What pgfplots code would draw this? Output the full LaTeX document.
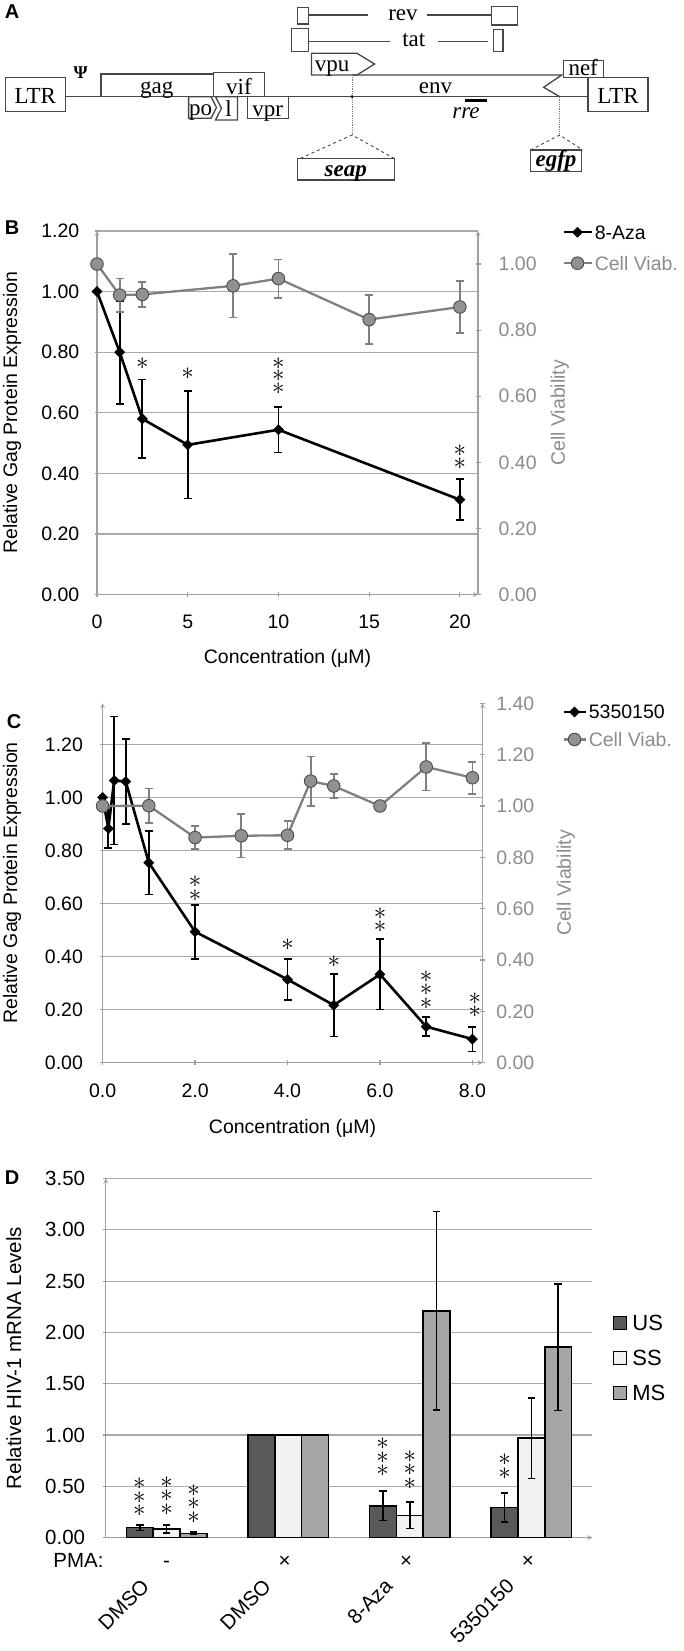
\documentclass[border=0pt]{standalone}
\usepackage{fontspec}
\setmainfont{Liberation Sans}
\newfontfamily\timesf{Liberation Serif}
\usepackage{pgfplots}
\usepackage{pgfplotstable}
\pgfplotsset{compat=1.18}

\definecolor{gridc}{RGB}{170,170,170}
\definecolor{axc}{RGB}{160,160,160}
\definecolor{viab}{RGB}{128,128,128}
\definecolor{viabfill}{RGB}{145,145,145}
\definecolor{viabtxt}{RGB}{140,140,140}
\definecolor{usc}{RGB}{89,89,89}
\definecolor{ssc}{RGB}{242,242,242}
\definecolor{msc}{RGB}{166,166,166}
\definecolor{diag}{RGB}{70,70,70}

\newcommand{\fB}{\fontsize{19.5}{22}\selectfont}
\newcommand{\fD}{\fontsize{20.5}{23}\selectfont}
\newcommand{\fL}{\fontsize{22}{24}\selectfont}
\newcommand{\fA}{\timesf\fontsize{23}{25}\selectfont}
\newcommand{\fP}{\bfseries\fontsize{20}{22}\selectfont}

\newcommand{\sa}{$\ast$}
\newcommand{\stk}[4]{\node[font=\fontsize{25}{#3}\selectfont, align=center, inner sep=0pt, anchor=south, yshift=-6.25pt] at (axis cs:#1,#2) {#4};}

\pgfplotsset{
 panel/.style={scale only axis, clip=false,
   axis line style={axc, line width=1.2pt, -},
   every tick/.style={axc, line width=1.2pt},
   major tick length=5pt, tick align=outside,
   tick label style={font=\fB, inner sep=0pt, /pgf/number format/assume math mode=true},
   label style={font=\fB},
   grid style={gridc, line width=1.2pt}},
 blk/.style={black, line width=2.6pt, mark=square*, mark size=3.6pt,
   mark options={rotate=45, solid, line width=0.4pt, fill=black},
   error bars/y dir=both, error bars/y explicit,
   error bars/error bar style={line width=1.8pt, black},
   error bars/error mark options={rotate=90, mark size=4pt, line width=1.8pt, black}},
 gry/.style={viab, line width=2.3pt, mark=*, mark size=6.3pt,
   mark options={solid, fill=viabfill, draw=black!70, line width=0.9pt},
   error bars/y dir=both, error bars/y explicit,
   error bars/error bar style={line width=1.8pt, viab},
   error bars/error mark options={rotate=90, mark size=4pt, line width=1.8pt, viab}},
 lineimgB/.style={legend image code/.code={\draw[mark repeat=2,mark phase=2,##1] plot coordinates {(0pt,0pt) (14pt,0pt) (28pt,0pt)};}},
 lineimgC/.style={legend image code/.code={\draw[mark repeat=2,mark phase=2,##1] plot coordinates {(0pt,0pt) (11pt,0pt) (22pt,0pt)};}},
 sqleg/.style={legend image code/.code={\draw[##1, line width=1.2pt] (0pt,-6.5pt) rectangle (13pt,6.5pt);}},
 eb/.style={error bars/y dir=both, error bars/y explicit,
   error bars/error bar style={line width=1.6pt, black},
   error bars/error mark options={rotate=90, mark size=3.8pt, line width=1.6pt, black}},
}

\pgfplotstableread{
x y e
0 1.00 0
1.25 0.80 0.17
2.5 0.58 0.13
5 0.494 0.177
10 0.544 0.075
20 0.313 0.067
}\Bblk
\pgfplotstableread{
x y e
0 1.00 0
1.25 0.906 0.05
2.5 0.908 0.038
7.5 0.934 0.096
10 0.956 0.058
15 0.832 0.075
20 0.870 0.078
}\Bgry
\pgfplotstableread{
x y e
0 1.00 0
0.125 0.883 0.072
0.25 1.064 0.241
0.5 1.060 0.161
1 0.754 0.12
2 0.494 0.102
4 0.314 0.078
5 0.217 0.118
6 0.333 0.132
7 0.136 0.035
8 0.089 0.047
}\Cblk
\pgfplotstableread{
x y e
0 1.00 0.01
1 1.001 0.067
2 0.877 0.045
3 0.884 0.085
4 0.886 0.055
4.5 1.097 0.096
5 1.078 0.047
6 1.00 0.015
7 1.152 0.092
8 1.11 0.062
}\Cgry

\begin{document}
\begin{tikzpicture}
\path[use as bounding box] (0,0) rectangle (683pt,-1651pt);

% ---------------- Panel A (schematic) ----------------
\node[font=\fP] at (12pt,-12pt) {A};
\begin{axis}[at={(0pt,0pt)}, anchor=north west, scale only axis, width=683pt, height=200pt,
  xmin=0, xmax=683, ymin=0, ymax=200, y dir=reverse, hide axis, clip=false]
\begin{scope}[diag, line width=1.3pt]
 \draw (65.3,96.7) -- (588,96.7);
 \draw (5.2,77.7) rectangle (65.3,111.7);
 \draw (588,77.7) rectangle (648,111.7);
 \draw (101,74) rectangle (213.4,96.7);
 \draw (213.4,72.7) rectangle (264.4,96.7);
 \draw (188.6,96.7) -- (211,96.7) -- (216.5,107.5) -- (211,118.3) -- (188.6,118.3) -- cycle;
 \draw (215.5,96.7) -- (237.4,96.7) -- (237.4,120) -- (215.5,120) -- (221.5,108.3) -- cycle;
 \draw (247.4,96.7) rectangle (288.3,118.3);
 \draw (311.4,53.3) -- (357,53.3) -- (374.6,64) -- (357,75) -- (311.4,75) -- cycle;
 \draw (352,75) -- (561.8,75) -- (543.6,87.3) -- (559.7,96.7);
 \draw (563.2,60.7) rectangle (603.2,77.3);
 \draw (297.5,7.3) rectangle (308.4,24);
 \draw (308.4,15) -- (368,15);
 \draw (426.8,15) -- (491.3,15);
 \draw (491.3,6.7) rectangle (517.4,25);
 \draw (291.8,28.3) rectangle (308.4,51.7);
 \draw (308.4,41.7) -- (389.8,41.7);
 \draw (437.7,41.7) -- (487.8,41.7);
 \draw (493.5,29.3) rectangle (503,51.7);
 \draw (297.5,158.3) rectangle (394.2,180);
 \draw (530.5,150) rectangle (581.4,171.7);
 \draw[gray, line width=0.8pt, densely dotted] (352,75) -- (352,135);
 \draw[gray, line width=0.8pt, densely dotted] (559.7,96.7) -- (559.7,135);
 \draw[line width=0.9pt, dashed] (300.5,158.3) -- (352,135) -- (394,158.3);
 \draw[line width=0.9pt, dashed] (530.5,150) -- (559.7,135) -- (582.8,150);
 \draw[black, line width=3pt] (465.2,100) -- (487,100);
\end{scope}
 \fill[black] (352,96.7) circle (1.5pt);
 \node[font=\fA, anchor=base] at (35.3,103.3) {LTR};
 \node[font=\fA, anchor=base] at (618,103.3) {LTR};
 \node[font=\timesf\bfseries\fontsize{18}{18}\selectfont] at (80.6,72.7) {Ψ};
 \node[font=\fA, anchor=base] at (156.8,93.3) {gag};
 \node[font=\fA, anchor=base] at (238.9,94) {vif};
 \node[font=\fA, anchor=base] at (200.5,115) {po};
 \node[font=\fA, anchor=base] at (228.5,116.7) {l};
 \node[font=\fA, anchor=base] at (267.8,116) {vpr};
 \node[font=\fA, anchor=base] at (332,71.7) {vpu};
 \node[font=\fA, anchor=base] at (435.5,93.3) {env};
 \node[font=\fA, anchor=base] at (583.2,75) {nef};
 \node[font=\fA, anchor=base] at (403,20) {rev};
 \node[font=\fA, anchor=base] at (413.8,46.7) {tat};
 \node[font=\fA\itshape, anchor=base] at (466,118.3) {rre};
 \node[font=\fA\bfseries\itshape, anchor=base] at (345.8,176) {seap};
 \node[font=\fA\bfseries\itshape, anchor=base] at (556,166.7) {egfp};
\end{axis}

% ---------------- Panel B ----------------
\node[font=\fP] at (12pt,-228pt) {B};
\begin{axis}[panel, at={(97pt,-594.5pt)}, anchor=south west, width=381pt, height=363.5pt,
  xmin=0, xmax=21, ymin=0, ymax=1.2,
  axis x line=bottom, axis y line=left,
  xtick={0,5,10,15,20}, ytick={0,0.2,0.4,0.6,0.8,1.0,1.2},
  ymajorgrids,
  yticklabel style={anchor=east, xshift=-15pt, /pgf/number format/.cd, fixed, fixed zerofill, precision=2},
  xticklabel style={anchor=north, yshift=-18pt},
  ylabel={Relative Gag Protein Expression},
  ylabel style={font=\fB, at={(rel axis cs:-0.223,0.5)}, anchor=center},
  xlabel={Concentration (μM)},
  xlabel style={font=\fB, at={(rel axis cs:0.5,-0.1747)}, anchor=center}]
\addplot[blk] table[x=x, y=y, y error=e] {\Bblk};
\stk{2.5}{0.763}{12.5pt}{\sa}
\stk{5}{0.73}{12.5pt}{\sa}
\stk{10}{0.681}{12.5pt}{\sa\\\sa\\\sa}
\stk{20}{0.433}{13pt}{\sa\\\sa}
\end{axis}
\begin{axis}[panel, at={(97pt,-594.5pt)}, anchor=south west, width=381pt, height=363.5pt,
  xmin=0, xmax=21, ymin=0, ymax=1.1,
  axis y line=right, axis x line=none,
  ytick={0,0.2,0.4,0.6,0.8,1.0},
  yticklabel style={anchor=west, xshift=18pt, text=viabtxt, /pgf/number format/.cd, fixed, fixed zerofill, precision=2},
  ylabel={Cell Viability},
  ylabel style={font=\fB, at={(rel axis cs:1.215,0.5)}, anchor=center, text=viabtxt},
  lineimgB,
  legend style={at={(rel axis cs:1.2205,1.0193)}, anchor=north west, draw=none, fill=none,
    font=\fB, inner sep=0pt, row sep=15pt, cells={anchor=west},
    nodes={inner sep=1pt, text height=14pt, text depth=0pt},
    /tikz/every odd column/.append style={column sep=1pt}}]
\addlegendimage{blk}
\addlegendentry{8-Aza}
\addplot[gry] table[x=x, y=y, y error=e] {\Bgry};
\addlegendentry{\textcolor{viabtxt}{Cell Viab.}}
\end{axis}

% ---------------- Panel C ----------------
\node[font=\fP] at (14pt,-722pt) {C};
\begin{axis}[panel, at={(102.6pt,-1062.7pt)}, anchor=south west, width=380pt, height=359.4pt,
  xmin=0, xmax=8.22, ymin=0, ymax=1.355,
  axis x line=bottom, axis y line=left,
  xtick={0,2,4,6,8}, ytick={0,0.2,0.4,0.6,0.8,1.0,1.2},
  ymajorgrids,
  yticklabel style={anchor=east, xshift=-17pt, /pgf/number format/.cd, fixed, fixed zerofill, precision=2},
  xticklabel style={anchor=north, yshift=-18pt, /pgf/number format/.cd, fixed, fixed zerofill, precision=1},
  ylabel={Relative Gag Protein Expression},
  ylabel style={font=\fB, at={(rel axis cs:-0.238,0.5)}, anchor=center},
  xlabel={Concentration (μM)},
  xlabel style={font=\fB, at={(rel axis cs:0.5,-0.182)}, anchor=center}]
\addplot[blk] table[x=x, y=y, y error=e] {\Cblk};
\stk{2}{0.632}{14pt}{\sa\\\sa}
\stk{4}{0.444}{13.5pt}{\sa}
\stk{5}{0.381}{13.5pt}{\sa}
\stk{6}{0.513}{13pt}{\sa\\\sa}
\stk{7}{0.224}{13.5pt}{\sa\\\sa\\\sa}
\stk{8.05}{0.192}{13pt}{\sa\\\sa}
\end{axis}
\begin{axis}[panel, at={(102.6pt,-1062.7pt)}, anchor=south west, width=380pt, height=359.4pt,
  xmin=0, xmax=8.22, ymin=0, ymax=1.4,
  axis y line=right, axis x line=none,
  ytick={0,0.2,0.4,0.6,0.8,1.0,1.2,1.4},
  yticklabel style={anchor=west, xshift=11pt, text=viabtxt, /pgf/number format/.cd, fixed, fixed zerofill, precision=2},
  ylabel={Cell Viability},
  ylabel style={font=\fB, at={(rel axis cs:1.219,0.5)}, anchor=center, text=viabtxt},
  lineimgC,
  legend style={at={(rel axis cs:1.209,0.9989)}, anchor=north west, draw=none, fill=none,
    font=\fB, inner sep=0pt, row sep=11.6pt, cells={anchor=west},
    nodes={inner sep=1pt, text height=14pt, text depth=0pt},
    /tikz/every odd column/.append style={column sep=1pt}}]
\addlegendimage{blk}
\addlegendentry{5350150}
\addplot[gry] table[x=x, y=y, y error=e] {\Cgry};
\addlegendentry{\textcolor{viabtxt}{Cell Viab.}}
\end{axis}

% ---------------- Panel D ----------------
\node[font=\fP] at (12pt,-1177.5pt) {D};
\begin{axis}[panel, at={(105.8pt,-1537.6pt)}, anchor=south west, width=486.5pt, height=359.1pt,
  xmin=-0.5, xmax=3.5, ymin=0, ymax=3.5,
  ybar, bar width=26.8pt,
  axis x line=bottom, axis y line=left,
  xtick={0,1,2,3}, xticklabels={DMSO,DMSO,8-Aza,5350150},
  xtick style={draw=none},
  xticklabel style={font=\fD, anchor=east, xshift=-21pt, yshift=-42.6pt, rotate=45},
  ytick={0,0.5,1.0,1.5,2.0,2.5,3.0,3.5},
  yticklabel style={font=\fD, anchor=east, xshift=-18pt, /pgf/number format/.cd, fixed, fixed zerofill, precision=2},
  ymajorgrids,
  ylabel={Relative HIV-1 mRNA Levels},
  ylabel style={font=\fD, at={(rel axis cs:-0.189,0.5)}, anchor=center},
  legend style={at={(rel axis cs:1.0425,0.6238)}, anchor=north west, draw=none, fill=none,
    font=\fL, inner sep=0pt, row sep=17pt, cells={anchor=west},
    nodes={inner sep=1pt, text height=16pt, text depth=0pt},
    /tikz/every odd column/.append style={column sep=4pt}}]
\addplot[bar shift=-26.8pt, fill=usc, draw=black, line width=1.6pt, sqleg, eb]
  coordinates {(0,0.097) +- (0,0.027) (1,1.0) +- (0,0) (2,0.311) +- (0,0.143) (3,0.295) +- (0,0.14)};
\addlegendentry{US}
\addplot[bar shift=0pt, fill=ssc, draw=black, line width=1.6pt, sqleg, eb]
  coordinates {(0,0.084) +- (0,0.04) (1,1.0) +- (0,0) (2,0.217) +- (0,0.13) (3,0.970) +- (0,0.392)};
\addlegendentry{SS}
\addplot[bar shift=26.8pt, fill=msc, draw=black, line width=1.6pt, sqleg, eb]
  coordinates {(0,0.042) +- (0,0.01) (1,1.0) +- (0,0) (2,2.209) +- (0,0.968) (3,1.856) +- (0,0.618)};
\addlegendentry{MS}
\stk{-0.225}{0.262}{13.5pt}{\sa\\\sa\\\sa}
\stk{0}{0.279}{13.5pt}{\sa\\\sa\\\sa}
\stk{0.222}{0.198}{13.5pt}{\sa\\\sa\\\sa}
\stk{1.775}{0.652}{13.5pt}{\sa\\\sa\\\sa}
\stk{2.0}{0.529}{13.5pt}{\sa\\\sa\\\sa}
\stk{2.778}{0.627}{14pt}{\sa\\\sa}
\node[font=\fD, inner sep=0pt, text height=0.72em, text depth=0pt, anchor=east, yshift=-26pt, xshift=-2pt] at (rel axis cs:0,0) {PMA:};
\node[font=\fD, inner sep=0pt, text height=0.72em, text depth=0pt, yshift=-26pt] at (axis cs:0,0) {-};
\node[font=\fD, inner sep=0pt, text height=0.72em, text depth=0pt, yshift=-26pt] at (axis cs:0.97,0) {×};
\node[font=\fD, inner sep=0pt, text height=0.72em, text depth=0pt, yshift=-26pt] at (axis cs:1.97,0) {×};
\node[font=\fD, inner sep=0pt, text height=0.72em, text depth=0pt, yshift=-26pt] at (axis cs:2.97,0) {×};
\end{axis}
\end{tikzpicture}
\end{document}
